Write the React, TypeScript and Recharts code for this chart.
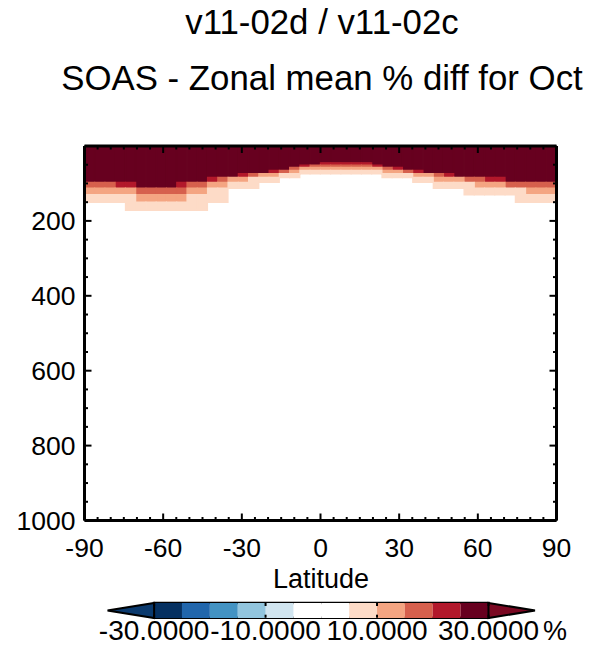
import React from 'react';
import { BarChart, Bar, XAxis, YAxis, ReferenceLine, ReferenceArea } from 'recharts';

// latitude of each model column (centres)
const LATS = [
  -88.04, -84.13, -80.22, -76.3, -72.39, -68.48, -64.57, -60.65, -56.74, -52.83,
  -48.91, -45.0, -41.09, -37.17, -33.26, -29.35, -25.43, -21.52, -17.61, -13.7,
  -9.78, -5.87, -1.96, 1.96, 5.87, 9.78, 13.7, 17.61, 21.52, 25.43,
  29.35, 33.26, 37.17, 41.09, 45.0, 48.91, 52.83, 56.74, 60.65, 64.57,
  68.48, 72.39, 76.3, 80.22, 84.13, 88.04,
];

const P_DARK = [
  97, 97, 97, 97, 97, 113, 113, 113, 113, 97, 97, 97, 84, 84, 84, 74, 74, 74, 65, 65,
  57, 51.5, 51.5, 45, 45, 45, 45, 45, 51.5, 57, 57, 65, 65, 74, 74, 74, 84, 84, 84, 84,
  84, 97, 97, 97, 97, 97,
];
const P_RED = [
  97, 97, 97, 113, 113, 113, 113, 113, 113, 113, 97, 97, 97, 84, 84, 84, 74, 74, 74, 65,
  57, 57, 51.5, 51.5, 51.5, 51.5, 51.5, 51.5, 57, 57, 65, 65, 74, 74, 74, 84, 84, 84, 84, 97,
  97, 97, 97, 97, 97, 97,
];
const P_CORAL = [
  113, 113, 113, 113, 113, 130, 130, 130, 130, 130, 113, 113, 97, 97, 84, 84, 84, 74, 74, 74,
  65, 57, 57, 57, 57, 57, 57, 57, 57, 65, 65, 74, 74, 74, 84, 84, 84, 97, 97, 97,
  97, 113, 113, 113, 113, 113,
];
const P_SALMON = [
  130, 130, 130, 130, 130, 150, 150, 150, 150, 150, 130, 130, 113, 113, 97, 97, 84, 84, 84, 74,
  74, 65, 65, 65, 65, 65, 65, 65, 65, 74, 74, 74, 84, 84, 97, 97, 97, 97, 113, 113,
  113, 113, 113, 130, 130, 130,
];
const P_PEACH = [
  150, 150, 150, 150, 172, 172, 172, 172, 172, 172, 172, 172, 150, 150, 113, 113, 113, 97, 97, 84,
  84, 74, 74, 74, 74, 74, 74, 74, 74, 84, 84, 84, 97, 97, 113, 113, 113, 130, 130, 130,
  130, 130, 150, 150, 150, 150,
];

const BAND_KEYS = ['dark', 'red', 'coral', 'salmon', 'peach'];
const BAND_COLORS = ['#67001f', '#b2182b', '#d6604d', '#f4a582', '#fddbc7'];

const LAT_TICKS = [
  -90, -85, -80, -75, -70, -65, -60, -55, -50, -45, -40, -35, -30, -25, -20, -15, -10, -5, 0,
  5, 10, 15, 20, 25, 30, 35, 40, 45, 50, 55, 60, 65, 70, 75, 80, 85, 90,
];
const LAT_LABELS = [-90, -60, -30, 0, 30, 60, 90];
const P_TICKS = [
  0, 50, 100, 150, 200, 250, 300, 350, 400, 450, 500, 550, 600, 650, 700, 750, 800, 850, 900,
  950, 1000,
];
const P_MAJOR = [0, 200, 400, 600, 800, 1000];
const P_LABELS = [200, 400, 600, 800, 1000];

// colour bar: class edges (%) and fills, low end first
const CB_EDGES = [-30, -25, -20, -15, -10, -5, 0, 5, 10, 15, 20, 25, 30];
const CB_COLORS = [
  '#053061', '#2166ac', '#4393c3', '#92c5de', '#d1e5f0', '#ffffff',
  '#ffffff', '#fddbc7', '#f4a582', '#d6604d', '#b2182b', '#67001f',
];
const CB_LABELS = [-30, -10, 10, 30];
const CB_ARROW_LEN = 8.4;
const CB_LOW = '#0b3a6e';
const CB_HIGH = '#7a0822';

const FONT = '"Liberation Sans", Arial, Helvetica, sans-serif';
const PLOT_W = 472;
const PLOT_H = 374.5;

const bandBottoms = [P_DARK, P_RED, P_CORAL, P_SALMON, P_PEACH];
const tableData = LATS.map((lat, i) => {
  const row: any = { lat };
  let prev = 0;
  BAND_KEYS.forEach((k, j) => {
    row[k] = bandBottoms[j][i] - prev;
    prev = bandBottoms[j][i];
  });
  return row;
});

// colour bar segments, stacked outward from 0 (negatives leftward, positives rightward)
const mid = CB_EDGES.indexOf(0);
const cbSegs: { key: string; color: string; value: number; arrow?: string }[] = [];
for (let i = mid - 1; i >= 0; i--) {
  cbSegs.push({ key: `n${i}`, color: CB_COLORS[i], value: CB_EDGES[i] - CB_EDGES[i + 1] });
}
cbSegs.push({ key: 'nlow', color: CB_LOW, value: -CB_ARROW_LEN, arrow: 'low' });
for (let i = mid; i < CB_COLORS.length; i++) {
  cbSegs.push({ key: `p${i}`, color: CB_COLORS[i], value: CB_EDGES[i + 1] - CB_EDGES[i] });
}
cbSegs.push({ key: 'phigh', color: CB_HIGH, value: CB_ARROW_LEN, arrow: 'high' });
const cbRow: any = { name: 'bar' };
cbSegs.forEach((s) => {
  cbRow[s.key] = s.value;
});
const cbData = [cbRow];

const LatTick = (props: any) => {
  const { x, y, payload } = props;
  const v = payload.value;
  const major = LAT_LABELS.includes(v);
  const len = major ? 7 : 3.5;
  const top = y - PLOT_H;
  return (
    <g>
      <line x1={x} y1={y} x2={x} y2={y - len} stroke="#000" strokeWidth={2} />
      <line x1={x} y1={top} x2={x} y2={top + len} stroke="#000" strokeWidth={2} />
      {major && (
        <text x={x} y={y + 36} textAnchor="middle" fontSize={26.5} fontFamily={FONT} fill="#000">
          {v}
        </text>
      )}
    </g>
  );
};

const PTick = (props: any) => {
  const { x, y, payload } = props;
  const v = payload.value;
  const len = P_MAJOR.includes(v) ? 7 : 3.5;
  const right = x + PLOT_W;
  return (
    <g>
      <line x1={x} y1={y} x2={x + len} y2={y} stroke="#000" strokeWidth={2} />
      <line x1={right} y1={y} x2={right - len} y2={y} stroke="#000" strokeWidth={2} />
      {P_LABELS.includes(v) && (
        <text x={x - 9} y={y + 9.5} textAnchor="end" fontSize={26.5} fontFamily={FONT} fill="#000">
          {v}
        </text>
      )}
    </g>
  );
};

const CbTick = (props: any) => {
  const { x, y, payload } = props;
  const v = payload.value;
  return (
    <g>
      <line x1={x} y1={y} x2={x} y2={y - 3} stroke="#000" strokeWidth={2} />
      <line x1={x} y1={y - 14.7} x2={x} y2={y - 11.7} stroke="#000" strokeWidth={2} />
      <text x={x} y={y + 22.5} textAnchor="middle" fontSize={28} fontFamily={FONT} fill="#000">
        {v.toFixed(4)}
      </text>
    </g>
  );
};

const arrowShape = (dir: string, color: string) => (p: any) => {
  const x0 = Math.min(p.x, p.x + p.width);
  const x1 = Math.max(p.x, p.x + p.width);
  const y0 = p.y;
  const y1 = p.y + p.height;
  const ym = (y0 + y1) / 2;
  const pts =
    dir === 'low'
      ? `${x0},${ym} ${x1},${y0} ${x1},${y1}`
      : `${x0},${y0} ${x1},${ym} ${x0},${y1}`;
  return <polygon points={pts} fill={color} stroke="#000" strokeWidth={2} />;
};

const axisLine = { stroke: '#000', strokeWidth: 3 };

export default function App() {
  return (
    <div style={{ position: 'absolute', left: 0, top: 0, width: 595, height: 653, background: '#fff' }}>
      <div style={{ position: 'absolute', left: 0, top: 0 }}>
        <BarChart
          width={595}
          height={580}
          data={tableData}
          barCategoryGap={0}
          barGap={0}
          margin={{ top: 146, left: 24.5, right: 38.5, bottom: 9.5 }}
        >
          {BAND_KEYS.map((k, j) => (
            <Bar
              key={k}
              dataKey={k}
              stackId="col"
              fill={BAND_COLORS[j]}
              stroke={BAND_COLORS[j]}
              strokeWidth={1.4}
              isAnimationActive={false}
            />
          ))}
          <XAxis
            dataKey="lat"
            type="number"
            domain={[-90, 90]}
            allowDataOverflow
            ticks={LAT_TICKS}
            interval={0}
            tickSize={0}
            tickMargin={0}
            height={50}
            axisLine={axisLine}
            tickLine={false}
            tick={(p: any) => <LatTick {...p} />}
          />
          <YAxis
            type="number"
            domain={[0, 1000]}
            reversed
            allowDataOverflow
            ticks={P_TICKS}
            interval={0}
            tickSize={0}
            tickMargin={0}
            width={60}
            axisLine={axisLine}
            tickLine={false}
            tick={(p: any) => <PTick {...p} />}
          />
          <ReferenceLine y={0} stroke="#000" strokeWidth={3} />
          <ReferenceLine x={90} stroke="#000" strokeWidth={3} />
        </BarChart>
      </div>

      <div style={{ position: 'absolute', left: 0, top: 590 }}>
        <BarChart
          width={595}
          height={63}
          data={cbData}
          layout="vertical"
          stackOffset="sign"
          barCategoryGap={0}
          barGap={0}
          margin={{ top: 13, left: 107.3, right: 59.7, bottom: 5.3 }}
        >
          <XAxis
            type="number"
            domain={[-30 - CB_ARROW_LEN, 30 + CB_ARROW_LEN]}
            allowDataOverflow
            ticks={CB_LABELS}
            interval={0}
            tickSize={0}
            tickMargin={0}
            height={30}
            axisLine={false}
            tickLine={false}
            tick={(p: any) => <CbTick {...p} />}
          />
          <YAxis type="category" dataKey="name" hide />
          {cbSegs.map((s) =>
            s.arrow ? (
              <Bar
                key={s.key}
                dataKey={s.key}
                stackId="cb"
                fill={s.color}
                shape={arrowShape(s.arrow, s.color)}
                isAnimationActive={false}
              />
            ) : (
              <Bar key={s.key} dataKey={s.key} stackId="cb" fill={s.color} isAnimationActive={false} />
            )
          )}
          <ReferenceArea x1={-30} x2={30} fill="none" fillOpacity={0} stroke="#000" strokeWidth={2.5} />
        </BarChart>
      </div>

      <svg
        width={595}
        height={653}
        style={{ position: 'absolute', left: 0, top: 0, pointerEvents: 'none' }}
        fontFamily={FONT}
      >
        <text x={322} y={34} textAnchor="middle" fontSize={34.8} fill="#000">
          v11-02d / v11-02c
        </text>
        <text x={322} y={90} textAnchor="middle" fontSize={34.8} fill="#000">
          SOAS - Zonal mean % diff for Oct
        </text>
        <text x={321} y={588} textAnchor="middle" fontSize={27} fill="#000">
          Latitude
        </text>
        <text x={543} y={640} fontSize={27} fill="#000">
          %
        </text>
      </svg>
    </div>
  );
}
